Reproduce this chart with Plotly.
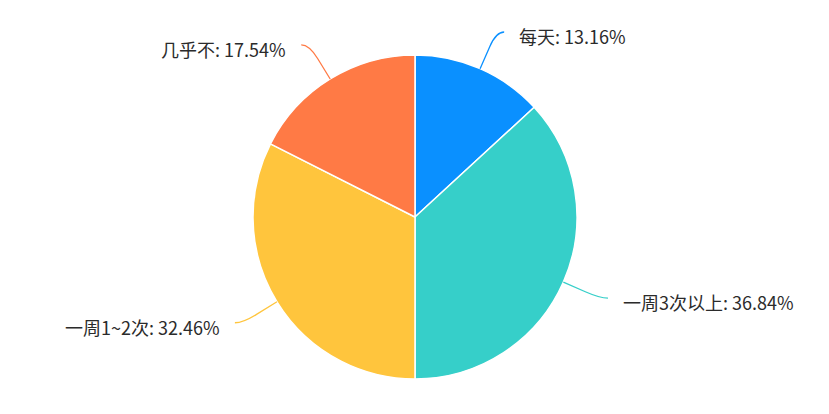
import math
import plotly.graph_objects as go

labels = ["每天", "一周3次以上", "一周1~2次", "几乎不"]
values = [13.16, 36.84, 32.46, 17.54]
colors = ["#0A90FF", "#36CFC9", "#FFC53D", "#FF7A45"]

W, H = 829, 414
OFF = 8  # page body margin
CX, CY, R = 415 - OFF, 217 - OFF, 162  # pixel centre and radius of the pie

fig = go.Figure()
fig.add_trace(go.Pie(
    labels=labels, values=values, sort=False, direction="clockwise", rotation=0,
    marker=dict(colors=colors, line=dict(color="#ffffff", width=1.5)),
    textinfo="none", hoverinfo="label+percent", showlegend=False,
    domain=dict(x=[(CX - R) / W, (CX + R) / W], y=[1 - (CY + R) / H, 1 - (CY - R) / H]),
))

def px(x, y):
    return x / W, 1 - y / H

total = sum(values)
cum = 0.0
shapes, annotations = [], []
L1, L2, GAP = 40, 8, 13
for lab, v, c in zip(labels, values, colors):
    mid = (cum + v / 2) / total * 2 * math.pi
    cum += v
    sx, sy = math.sin(mid), -math.cos(mid)
    p0 = (CX + R * sx, CY + R * sy)
    p1 = (CX + (R + L1) * sx, CY + (R + L1) * sy)
    side = 1 if sx >= 0 else -1
    p2 = (p1[0] + side * L2, p1[1])
    a = (p0[0] + 0.6 * (p1[0] - p0[0]), p0[1] + 0.6 * (p1[1] - p0[1]))
    pts = [px(*p0), px(*a), px(*p1), px(*p2)]
    path = "M {0[0]},{0[1]} L {1[0]},{1[1]} Q {2[0]},{2[1]} {3[0]},{3[1]}".format(*pts)
    shapes.append(dict(type="path", path=path, xref="paper", yref="paper",
                       line=dict(color=c, width=1.3)))
    tx, ty = px(p2[0] + side * GAP, p2[1] + 4)
    annotations.append(dict(x=tx, y=ty, xref="paper", yref="paper", showarrow=False,
                            text=f"{lab}: {v:.2f}%", xanchor="left" if side > 0 else "right",
                            yanchor="middle",
                            font=dict(family="Noto Sans CJK SC", size=18, color="#2b2b2b")))

fig.update_layout(width=W, height=H, margin=dict(l=0, r=0, t=0, b=0),
                  paper_bgcolor="#ffffff", plot_bgcolor="#ffffff",
                  shapes=shapes, annotations=annotations)
fig.write_html("out.html")
